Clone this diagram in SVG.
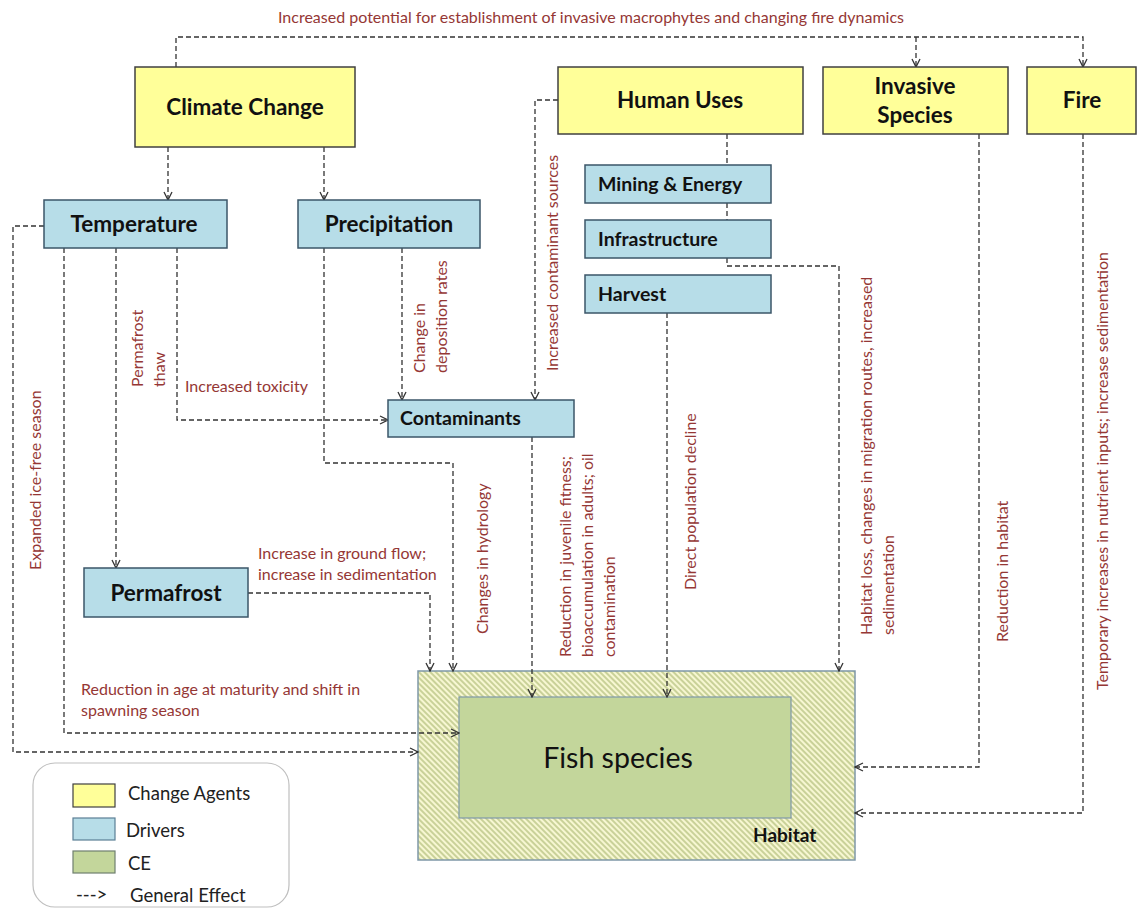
<svg xmlns="http://www.w3.org/2000/svg" width="1139" height="912" viewBox="0 0 1139 912">
<style>
.agent{fill:#FFFF99;stroke:#404040;stroke-width:1.5}
.driver{fill:#B7DDE8;stroke:#3B5668;stroke-width:1.5}
.t1{font-family:Lato,'Liberation Sans',sans-serif;font-weight:bold;font-size:22.5px;fill:#111;text-anchor:middle}
.t2{font-family:Lato,'Liberation Sans',sans-serif;font-weight:bold;font-size:19.5px;fill:#111}
.lbl{font-family:Lato,'Liberation Sans',sans-serif;font-size:16px;fill:#953735}
.leg{font-family:Lato,'Liberation Sans',sans-serif;font-size:18.5px;fill:#222}
.con{fill:none;stroke:#333;stroke-width:1.3;stroke-dasharray:5 3}
.arr{marker-end:url(#ah)}
</style>
<defs>
<marker id="ah" viewBox="0 0 10 10" refX="9" refY="5" markerWidth="10" markerHeight="10" markerUnits="userSpaceOnUse" orient="auto">
<path d="M1,1 L9,5 L1,9" fill="none" stroke="#333" stroke-width="1.3"/>
</marker>
<pattern id="hatch" patternUnits="userSpaceOnUse" width="4" height="4" patternTransform="rotate(-45)">
<rect width="4" height="4" fill="#F7F7D2"/>
<line x1="1" y1="0" x2="1" y2="4" stroke="#AAB872" stroke-width="1.2"/>
</pattern>
</defs>
<rect width="1139" height="912" fill="#FFFFFF"/>

<g id="habitat">
<rect x="418" y="671" width="437" height="189" fill="url(#hatch)" stroke="#7F98A8" stroke-width="1.5"/>
<text x="753" y="842" style="font-family:Lato,'Liberation Sans',sans-serif;font-weight:bold;font-size:19px;fill:#111">Habitat</text>
</g>
<g id="fish">
<rect x="459" y="697" width="332" height="121" fill="#C3D69B" stroke="#7F98A8" stroke-width="1.2"/>
<text x="618" y="768" style="font-family:Lato,'Liberation Sans',sans-serif;font-size:28.5px;fill:#111;text-anchor:middle">Fish species</text>
</g>

<g id="connectors">
<path class="con arr" d="M176,67 V37 H1083 V67"/>
<path class="con arr" d="M916,37 V67"/>
<path class="con arr" d="M168,147 V200"/>
<path class="con arr" d="M324,147 V200"/>
<path class="con arr" d="M44,226 H13 V752 H418"/>
<path class="con arr" d="M64,248 V733 H459"/>
<path class="con arr" d="M116,248 V568"/>
<path class="con arr" d="M177,248 V420 H388"/>
<path class="con arr" d="M324,248 V463 H453 V671"/>
<path class="con arr" d="M402,248 V400"/>
<path class="con arr" d="M558,100 H535 V400"/>
<path class="con" d="M727,134 V165"/>
<path class="con" d="M727,203 V220"/>
<path class="con arr" d="M727,258 V266 H839 V671"/>
<path class="con arr" d="M667,313 V697"/>
<path class="con arr" d="M532,437 V697"/>
<path class="con arr" d="M248,593 H430 V671"/>
<path class="con arr" d="M979,134 V767 H855"/>
<path class="con arr" d="M1083,134 V813 H855"/>
</g>

<g id="climate-change">
<rect class="agent" x="135" y="67" width="220" height="80"/>
<text class="t1" x="245" y="115">Climate Change</text>
</g>
<g id="human-uses">
<rect class="agent" x="558" y="67" width="245" height="67"/>
<text class="t1" x="680" y="108">Human Uses</text>
</g>
<g id="invasive-species">
<rect class="agent" x="823" y="67" width="185" height="67"/>
<text class="t1" x="915" y="94">Invasive</text>
<text class="t1" x="915" y="123">Species</text>
</g>
<g id="fire">
<rect class="agent" x="1027" y="67" width="109" height="67"/>
<text class="t1" x="1082" y="108">Fire</text>
</g>
<g id="temperature">
<rect class="driver" x="44" y="200" width="183" height="48"/>
<text class="t1" x="134" y="232">Temperature</text>
</g>
<g id="precipitation">
<rect class="driver" x="298" y="200" width="182" height="48"/>
<text class="t1" x="389" y="232">Precipitation</text>
</g>
<g id="mining-energy">
<rect class="driver" x="585" y="165" width="186" height="38"/>
<text class="t2" x="598" y="191">Mining &amp; Energy</text>
</g>
<g id="infrastructure">
<rect class="driver" x="585" y="220" width="186" height="38"/>
<text class="t2" x="598" y="246">Infrastructure</text>
</g>
<g id="harvest">
<rect class="driver" x="585" y="275" width="186" height="38"/>
<text class="t2" x="598" y="301">Harvest</text>
</g>
<g id="contaminants">
<rect class="driver" x="388" y="400" width="186" height="37"/>
<text class="t2" x="400" y="425">Contaminants</text>
</g>
<g id="permafrost">
<rect class="driver" x="84" y="568" width="164" height="49"/>
<text class="t1" x="166" y="601">Permafrost</text>
</g>

<g id="labels">
<text class="lbl" x="278" y="23">Increased potential for establishment of invasive macrophytes and changing fire dynamics</text>
<text class="lbl" transform="translate(41,570) rotate(-90)">Expanded  ice-free season</text>
<text class="lbl" transform="translate(143,387) rotate(-90)">Permafrost</text>
<text class="lbl" transform="translate(165,387) rotate(-90)">thaw</text>
<text class="lbl" x="185" y="392">Increased toxicity</text>
<text class="lbl" transform="translate(425,373) rotate(-90)">Change in</text>
<text class="lbl" transform="translate(447,373) rotate(-90)">deposition rates</text>
<text class="lbl" transform="translate(558,371) rotate(-90)">Increased contaminant sources</text>
<text class="lbl" transform="translate(488,634) rotate(-90)">Changes in hydrology</text>
<text class="lbl" transform="translate(571,657) rotate(-90)">Reduction in juvenile fitness;</text>
<text class="lbl" transform="translate(593,657) rotate(-90)">bioaccumulation in adults; oil</text>
<text class="lbl" transform="translate(615,657) rotate(-90)">contamination</text>
<text class="lbl" transform="translate(696,590) rotate(-90)">Direct population decline</text>
<text class="lbl" transform="translate(872,635) rotate(-90)">Habitat loss, changes in migration routes,  increased</text>
<text class="lbl" transform="translate(894,635) rotate(-90)">sedimentation</text>
<text class="lbl" transform="translate(1008,642) rotate(-90)">Reduction in habitat</text>
<text class="lbl" transform="translate(1108,690) rotate(-90)">Temporary increases in nutrient inputs; increase sedimentation</text>
<text class="lbl" x="258" y="559">Increase in ground flow;</text>
<text class="lbl" x="258" y="580">increase in sedimentation</text>
<text class="lbl" x="81" y="695">Reduction in age at maturity and shift in</text>
<text class="lbl" x="81" y="716">spawning season</text>
</g>

<g id="legend">
<rect x="33" y="763" width="256" height="144" rx="22" fill="#FFFFFF" stroke="#BFBFBF" stroke-width="1.2"/>
<rect x="73" y="784" width="42" height="23" fill="#FFFF99" stroke="#404040" stroke-width="1.2"/>
<rect x="73" y="818" width="42" height="22" fill="#B7DDE8" stroke="#5B7F95" stroke-width="1.2"/>
<rect x="73" y="851" width="42" height="22" fill="#C3D69B" stroke="#6F7F6F" stroke-width="1.2"/>
<text class="leg" x="128" y="800">Change Agents</text>
<text class="leg" x="126" y="837">Drivers</text>
<text class="leg" x="128" y="870">CE</text>
<text class="leg" x="76" y="901">---&gt;</text>
<text class="leg" x="130" y="902">General Effect</text>
</g>
</svg>
